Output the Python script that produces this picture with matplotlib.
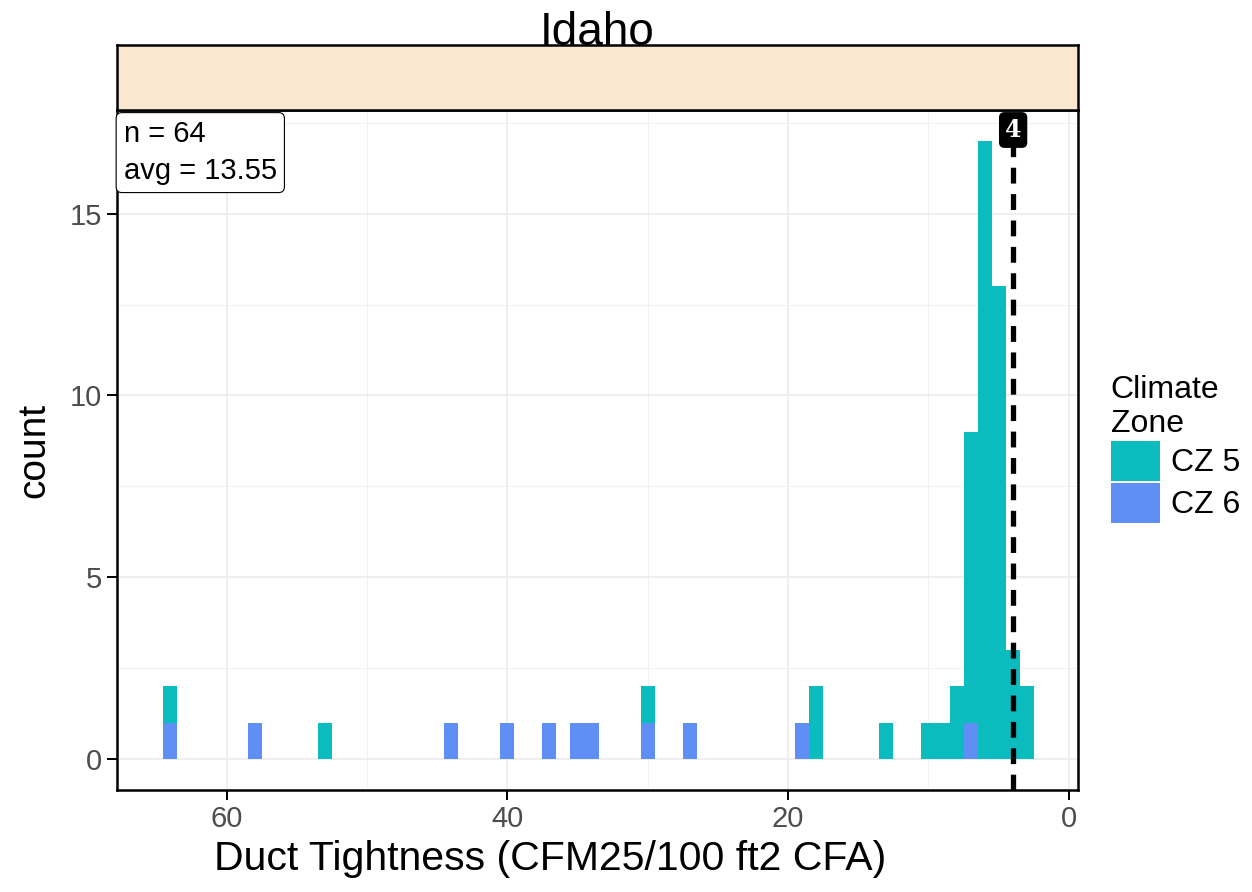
import matplotlib
matplotlib.use('Agg')
import matplotlib.pyplot as plt
from matplotlib.patches import Patch
import numpy as np

plt.rcParams['font.family'] = ['Liberation Sans', 'DejaVu Sans']

# histogram bins (binwidth 1, centred on integers) and counts per climate zone
bin_centers = [3, 4, 5, 6, 7, 8, 9, 10, 13, 18, 19, 27, 30, 34, 35, 37, 40, 44, 53, 58, 64]
cz5_counts = [2, 3, 13, 17, 8, 2, 1, 1, 1, 2, 0, 0, 1, 0, 0, 0, 0, 0, 1, 0, 1]
cz6_counts = [0, 0, 0, 0, 1, 0, 0, 0, 0, 0, 1, 1, 1, 1, 1, 1, 1, 1, 0, 1, 1]
zone_labels = ['CZ 5', 'CZ 6']
zone_colors = ['#0bbcbe', '#5f8ff5']
ref_value = 4
state = 'Idaho'
n_text = 'n = 64'
avg_text = 'avg = 13.55'
x_ticks = [60, 40, 20, 0]
y_ticks = [0, 5, 10, 15]

fig = plt.figure(figsize=(12.52, 8.92), dpi=100)
ax = fig.add_axes([117 / 1252, 1 - 790 / 892, 961 / 1252, 680 / 892])

ax.bar(bin_centers, cz6_counts, width=1.0, color=zone_colors[1], linewidth=0, zorder=2)
ax.bar(bin_centers, cz5_counts, width=1.0, bottom=cz6_counts, color=zone_colors[0],
       linewidth=0, zorder=2)

ax.set_xlim(67.8, -0.65)
ax.set_ylim(-0.85, 17.85)
ax.set_xticks(x_ticks)
ax.set_yticks(y_ticks)
ax.set_xticks([50, 30, 10], minor=True)
ax.set_yticks([2.5, 7.5, 12.5, 17.5], minor=True)
ax.grid(which='major', color='#ebebeb', linewidth=1.2, zorder=0)
ax.grid(which='minor', color='#f2f2f2', linewidth=0.8, zorder=0)
ax.set_axisbelow(True)
ax.tick_params(which='major', length=7, width=1.4, colors='black', labelsize=21,
               labelcolor='#4d4d4d', pad=4)
ax.tick_params(which='minor', length=0)
for s in ax.spines.values():
    s.set_linewidth(1.8)
    s.set_color('black')

ax.set_xlabel('Duct Tightness (CFM25/100 ft2 CFA)', fontsize=29.5)
ax.xaxis.set_label_coords(0.4506, -0.074, transform=ax.transAxes)
ax.xaxis.label.set_va('top')
ax.set_ylabel('count', fontsize=28, labelpad=12)

# reference line with label
ax.axvline(ref_value, color='black', linestyle=(0, (3, 2)), linewidth=3.8, zorder=3)
ax.text(ref_value - 0.03, 17.3, str(ref_value), ha='center', va='center', color='white',
        fontsize=17, fontweight='bold', family='DejaVu Serif', zorder=4,
        bbox=dict(boxstyle='round,pad=0.22,rounding_size=0.2', fc='black', ec='black'))

# summary box
ax.text(0.007, 0.985, n_text + '\n' + avg_text, transform=ax.transAxes, ha='left', va='top',
        fontsize=21, linespacing=1.4, zorder=5,
        bbox=dict(boxstyle='round,pad=0.26,rounding_size=0.2', fc='white', ec='black', lw=0.8))

# facet strip
sax = fig.add_axes([117 / 1252, 1 - 110 / 892, 961 / 1252, 65 / 892])
sax.set_facecolor('#f9e7d0')
sax.set_xticks([])
sax.set_yticks([])
for s in sax.spines.values():
    s.set_linewidth(1.8)
    s.set_color('black')
sax.text(0.5, 1.0, state, transform=sax.transAxes, ha='center', va='baseline', fontsize=33)

handles = [Patch(facecolor=c, edgecolor='none') for c in zone_colors]
leg = fig.legend(handles, zone_labels, title='Climate\nZone', loc='upper left',
                 bbox_to_anchor=(1098 / 1252, 1 - 362 / 892), frameon=False, fontsize=23,
                 title_fontsize=23, handlelength=1.55, handleheight=1.55, labelspacing=0.05,
                 handletextpad=0.35, borderaxespad=0)
leg._legend_box.align = 'left'

fig.savefig('out.png', dpi=100)
